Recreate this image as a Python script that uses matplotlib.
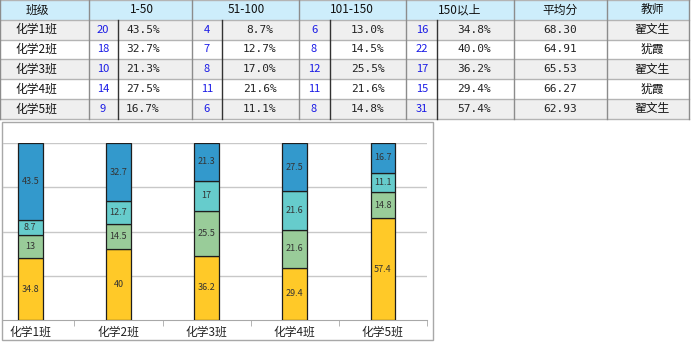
import numpy as np
import matplotlib
matplotlib.use("Agg")
import matplotlib.pyplot as plt
from matplotlib.patches import Rectangle

plt.rcParams['font.family'] = ['Noto Sans CJK SC', 'DejaVu Sans']

# class results by score band
classes = ['化学1班', '化学2班', '化学3班', '化学4班', '化学5班']
cnt_1_50 = [20, 18, 10, 14, 9]
pct_1_50 = [43.5, 32.7, 21.3, 27.5, 16.7]
cnt_51_100 = [4, 7, 8, 11, 6]
pct_51_100 = [8.7, 12.7, 17.0, 21.6, 11.1]
cnt_101_150 = [6, 8, 12, 11, 8]
pct_101_150 = [13.0, 14.5, 25.5, 21.6, 14.8]
cnt_150_up = [16, 22, 17, 15, 31]
pct_150_up = [34.8, 40.0, 36.2, 29.4, 57.4]
avg_score = [68.30, 64.91, 65.53, 66.27, 62.93]
teachers = ['翟文生', '犹霞', '翟文生', '犹霞', '翟文生']
headers = ['班级', '1-50', '51-100', '101-150', '150以上', '平均分', '教师']

W, H = 693, 343
fig = plt.figure(figsize=(W / 100, H / 100), dpi=100)

# ---- table, drawn in pixel coordinates ----
tab = fig.add_axes([0, 0, 1, 1])
tab.set_xlim(0, W)
tab.set_ylim(H, 0)
tab.axis('off')

col_edges = [0, 89, 192, 299, 406, 514, 607, 689]
sub_edges = [118, 222, 330, 437]
row_h = 19.8
n_rows = len(classes) + 1
tab_bottom = row_h * n_rows

tab.add_patch(Rectangle((0, 0), col_edges[-1], row_h, facecolor='#CDEDFB', edgecolor='none'))
for i in range(len(classes)):
    fc = '#EFEFEF' if i % 2 == 0 else '#FFFFFF'
    tab.add_patch(Rectangle((0, row_h * (i + 1)), col_edges[-1], row_h,
                            facecolor=fc, edgecolor='none'))

for r in range(n_rows + 1):
    tab.plot([0, col_edges[-1]], [r * row_h, r * row_h], color='#B4B4B4', lw=1)
for x in col_edges:
    tab.plot([x, x], [0, tab_bottom], color='#8C8C8C', lw=1)
for x in sub_edges:
    tab.plot([x, x], [row_h, tab_bottom], color='#333333', lw=1)

head_x = [37, 142, 246, 352, 460, 560, 652]
for x, t in zip(head_x, headers):
    tab.text(x, row_h / 2, t, ha='center', va='center', fontsize=8.5, color='#111111')

cnt_x = [103, 207, 314, 422]
pct_x = [143, 260, 368, 474]
cnts = [cnt_1_50, cnt_51_100, cnt_101_150, cnt_150_up]
pcts = [pct_1_50, pct_51_100, pct_101_150, pct_150_up]
for i, name in enumerate(classes):
    yc = row_h * (i + 1.5)
    tab.text(36, yc, name, ha='center', va='center', fontsize=8.5, color='#111111')
    for k in range(4):
        tab.text(cnt_x[k], yc, str(cnts[k][i]), ha='center', va='center',
                 fontsize=8, color='#1A1AE6')
        tab.text(pct_x[k], yc, f'{pcts[k][i]:.1f}%', ha='center', va='center',
                 fontsize=8, color='#222222', family='DejaVu Sans Mono')
    tab.text(560, yc, f'{avg_score[i]:.2f}', ha='center', va='center',
             fontsize=8, color='#222222', family='DejaVu Sans Mono')
    tab.text(652, yc, teachers[i], ha='center', va='center', fontsize=8.5, color='#111111')

# chart frame
tab.add_patch(Rectangle((2, 122), 431, 218, facecolor='white', edgecolor='#A8A8A8', lw=1))

# ---- stacked bar chart ----
px_left, px_right, px_top, px_bot = 3, 427, 143, 320
ax = fig.add_axes([px_left / W, 1 - px_bot / H,
                   (px_right - px_left) / W, (px_bot - px_top) / H])
ax.set_facecolor('none')

x = np.arange(len(classes))
stack = [pct_150_up, pct_101_150, pct_51_100, pct_1_50]
colors = ['#FFC928', '#99CC99', '#66CCCC', '#3399CC']
bottom = np.zeros(len(classes))
for vals, c in zip(stack, colors):
    vals = np.array(vals)
    ax.bar(x, vals, width=0.28, bottom=bottom, color=c, edgecolor='#1E1E1E',
           linewidth=0.9, zorder=3)
    for xi, b, v in zip(x, bottom, vals):
        ax.text(xi, b + v / 2, f'{v:g}', ha='center', va='center',
                fontsize=6.5, color='#333333', zorder=4)
    bottom += vals

ax.set_xlim(-0.31, 4.5)
ax.set_ylim(0, 100)
ax.set_yticks([25, 50, 75, 100])
ax.yaxis.grid(True, color='#C8C8C8', lw=1)
ax.set_axisbelow(True)
ax.tick_params(axis='y', left=False, labelleft=False)

ax.set_xticks(x)
ax.set_xticklabels(classes, fontsize=8.5, color='#222222')
ax.set_xticks(np.arange(0.5, 5, 1), minor=True)
ax.tick_params(axis='x', which='major', length=0, pad=4)
ax.tick_params(axis='x', which='minor', length=4, color='#A8A8A8', direction='out')

for s in ['top', 'left', 'right']:
    ax.spines[s].set_visible(False)
ax.spines['bottom'].set_color('#A8A8A8')

fig.savefig('out.png', dpi=100)
